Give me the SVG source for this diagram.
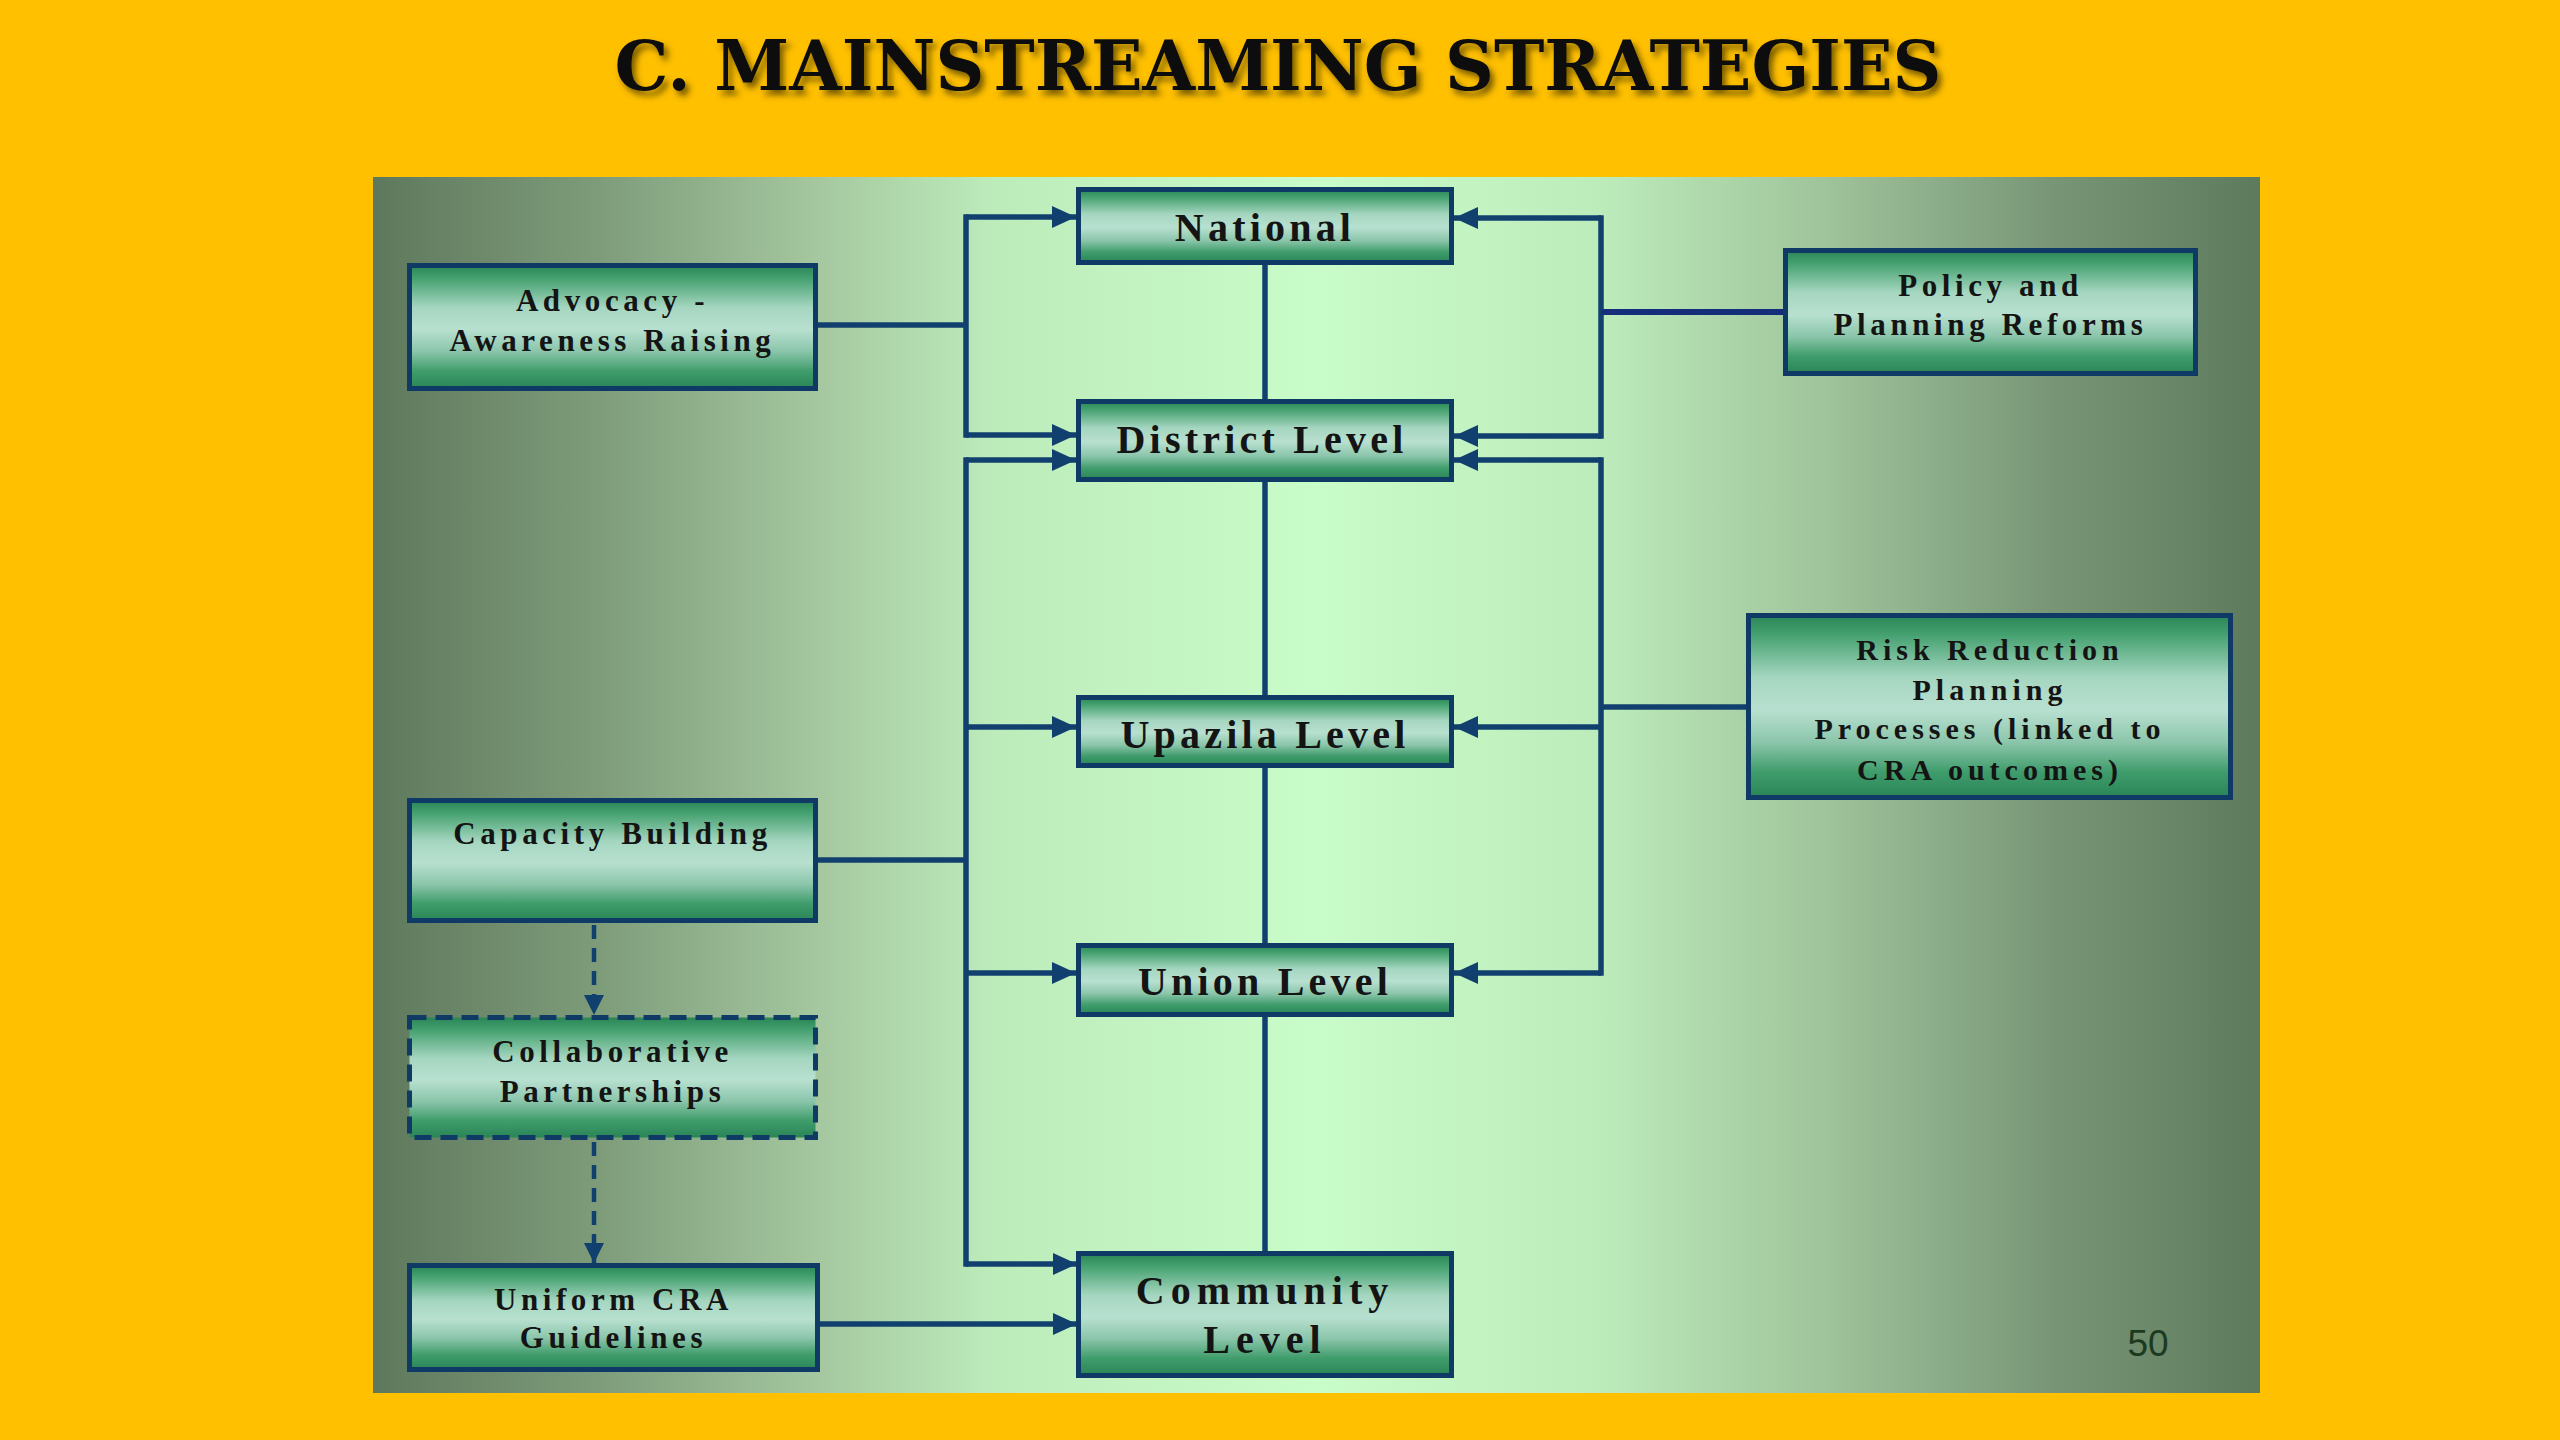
<svg xmlns="http://www.w3.org/2000/svg" width="2560" height="1440" viewBox="0 0 2560 1440">
<defs>
<linearGradient id="panelG" x1="0" y1="0" x2="1" y2="0">
<stop offset="0" stop-color="#5e785c"/>
<stop offset="0.12" stop-color="#7e9c7a"/>
<stop offset="0.24" stop-color="#a6c9a1"/>
<stop offset="0.33" stop-color="#bdecbb"/>
<stop offset="0.5" stop-color="#c8fcc8"/>
<stop offset="0.65" stop-color="#bdecbb"/>
<stop offset="0.77" stop-color="#9fc39b"/>
<stop offset="0.89" stop-color="#789676"/>
<stop offset="1" stop-color="#5e7a5d"/>
</linearGradient>
<linearGradient id="nodeG" x1="0" y1="0" x2="0" y2="1">
<stop offset="0" stop-color="#2a8556"/>
<stop offset="0.1" stop-color="#43a06e"/>
<stop offset="0.34" stop-color="#a5d6c0"/>
<stop offset="0.52" stop-color="#b8e0d0"/>
<stop offset="0.7" stop-color="#8ac5aa"/>
<stop offset="0.86" stop-color="#3f9c6b"/>
<stop offset="1" stop-color="#2a8556"/>
</linearGradient>
<filter id="shadow" x="-5%" y="-20%" width="110%" height="150%">
<feDropShadow dx="4" dy="5" stdDeviation="3" flood-color="#4a3a00" flood-opacity="0.75"/>
</filter>
<marker id="arr" markerUnits="userSpaceOnUse" markerWidth="26" markerHeight="24" viewBox="0 0 26 24" refX="24" refY="12" orient="auto">
<path d="M0,1 L24,12 L0,23 z" fill="#12406e"/>
</marker>
<marker id="arrS" markerUnits="userSpaceOnUse" markerWidth="22" markerHeight="22" viewBox="0 0 22 22" refX="20" refY="11" orient="auto">
<path d="M0,1 L20,11 L0,21 z" fill="#12406e"/>
</marker>
</defs>
<style>
.box{fill:url(#nodeG);stroke:#0f3a66;stroke-width:5}
.dbox{fill:url(#nodeG);stroke:#0f3a66;stroke-width:5;stroke-dasharray:17 9}
.t{font-family:"Liberation Serif","Times New Roman",serif;font-weight:bold;fill:#141414;text-anchor:middle}
.big{font-size:40px;letter-spacing:4.2px}
.sm{font-size:31px;letter-spacing:4.6px}
.rk{font-size:30px;letter-spacing:5px}
.c{fill:none;stroke:#12406e;stroke-width:5.5}
.bar{fill:none;stroke:#12406e;stroke-width:5.5;stroke-linecap:square}
.dash{fill:none;stroke:#12406e;stroke-width:4.5;stroke-dasharray:14 9}
</style>
<rect x="0" y="0" width="2560" height="1440" fill="#ffc000"/>
<text x="1278" y="90" font-family="'DejaVu Serif','Liberation Serif',serif" font-weight="bold" font-size="70" fill="#0a0a0a" text-anchor="middle" textLength="1327" lengthAdjust="spacingAndGlyphs" filter="url(#shadow)">C. MAINSTREAMING STRATEGIES</text>
<rect x="373" y="177" width="1887" height="1216" fill="url(#panelG)"/>

<g id="connectors">
<path class="c" d="M818,325 H966"/>
<path class="bar" d="M966,217 V435"/>
<path class="c" d="M966,217 H1076" marker-end="url(#arr)"/>
<path class="c" d="M966,435 H1076" marker-end="url(#arr)"/>
<path class="bar" d="M966,460 V1264"/>
<path class="c" d="M966,460 H1076" marker-end="url(#arr)"/>
<path class="c" d="M966,727 H1076" marker-end="url(#arr)"/>
<path class="c" d="M966,973 H1076" marker-end="url(#arr)"/>
<path class="c" d="M966,1264 H1077" marker-end="url(#arr)"/>
<path class="c" d="M818,860 H966"/>
<path class="c" d="M1265,265 V399"/>
<path class="c" d="M1265,482 V695"/>
<path class="c" d="M1265,768 V943"/>
<path class="c" d="M1265,1017 V1251"/>
<path class="bar" d="M1601,218 V436"/>
<path class="c" d="M1601,218 H1454" marker-end="url(#arr)"/>
<path class="c" d="M1601,436 H1454" marker-end="url(#arr)"/>
<path class="c" d="M1601,312 H1783" style="stroke:#142e7a;stroke-width:6"/>
<path class="bar" d="M1601,460 V973"/>
<path class="c" d="M1601,460 H1454" marker-end="url(#arr)"/>
<path class="c" d="M1601,727 H1454" marker-end="url(#arr)"/>
<path class="c" d="M1601,973 H1454" marker-end="url(#arr)"/>
<path class="c" d="M1601,707 H1746"/>
<path class="dash" d="M594,925 V1015" marker-end="url(#arrS)"/>
<path class="dash" d="M594,1142 V1263" marker-end="url(#arrS)"/>
<path class="c" d="M820,1324 H1077" marker-end="url(#arr)"/>
</g>

<g id="national">
<rect class="box" x="1078.5" y="189.5" width="373" height="73"/>
<text class="t big" x="1265" y="241">National</text>
</g>
<g id="district">
<rect class="box" x="1078.5" y="401.5" width="373" height="78"/>
<text class="t big" x="1262" y="453">District Level</text>
</g>
<g id="upazila">
<rect class="box" x="1078.5" y="697.5" width="373" height="68"/>
<text class="t big" x="1265" y="748">Upazila Level</text>
</g>
<g id="union">
<rect class="box" x="1078.5" y="945.5" width="373" height="69"/>
<text class="t big" x="1265" y="995">Union Level</text>
</g>
<g id="community">
<rect class="box" x="1078.5" y="1253.5" width="373" height="122"/>
<text class="t big" x="1265" y="1304" style="letter-spacing:6px">Community</text>
<text class="t big" x="1265" y="1353" style="letter-spacing:6px">Level</text>
</g>
<g id="advocacy">
<rect class="box" x="409.5" y="265.5" width="406" height="123"/>
<text class="t sm" x="612.5" y="311">Advocacy -</text>
<text class="t sm" x="612.5" y="351">Awareness Raising</text>
</g>
<g id="capacity">
<rect class="box" x="409.5" y="800.5" width="406" height="120"/>
<text class="t sm" x="612.5" y="844">Capacity Building</text>
</g>
<g id="collaborative">
<rect class="dbox" x="409.5" y="1017.5" width="406" height="120"/>
<text class="t sm" x="612.5" y="1062">Collaborative</text>
<text class="t sm" x="612.5" y="1102">Partnerships</text>
</g>
<g id="uniform">
<rect class="box" x="409.5" y="1265.5" width="408" height="104"/>
<text class="t sm" x="613.5" y="1310">Uniform CRA</text>
<text class="t sm" x="613.5" y="1348">Guidelines</text>
</g>
<g id="policy">
<rect class="box" x="1785.5" y="250.5" width="410" height="123"/>
<text class="t sm" x="1990.5" y="296">Policy and</text>
<text class="t sm" x="1990.5" y="335">Planning Reforms</text>
</g>
<g id="risk">
<rect class="box" x="1748.5" y="615.5" width="482" height="182"/>
<text class="t rk" x="1990" y="660">Risk Reduction</text>
<text class="t rk" x="1990" y="700">Planning</text>
<text class="t rk" x="1990" y="739">Processes (linked to</text>
<text class="t rk" x="1990" y="780">CRA outcomes)</text>
</g>
<text x="2148" y="1356" font-family="'Liberation Sans',Arial,sans-serif" font-size="37" fill="#1c3a20" text-anchor="middle">50</text>
</svg>
